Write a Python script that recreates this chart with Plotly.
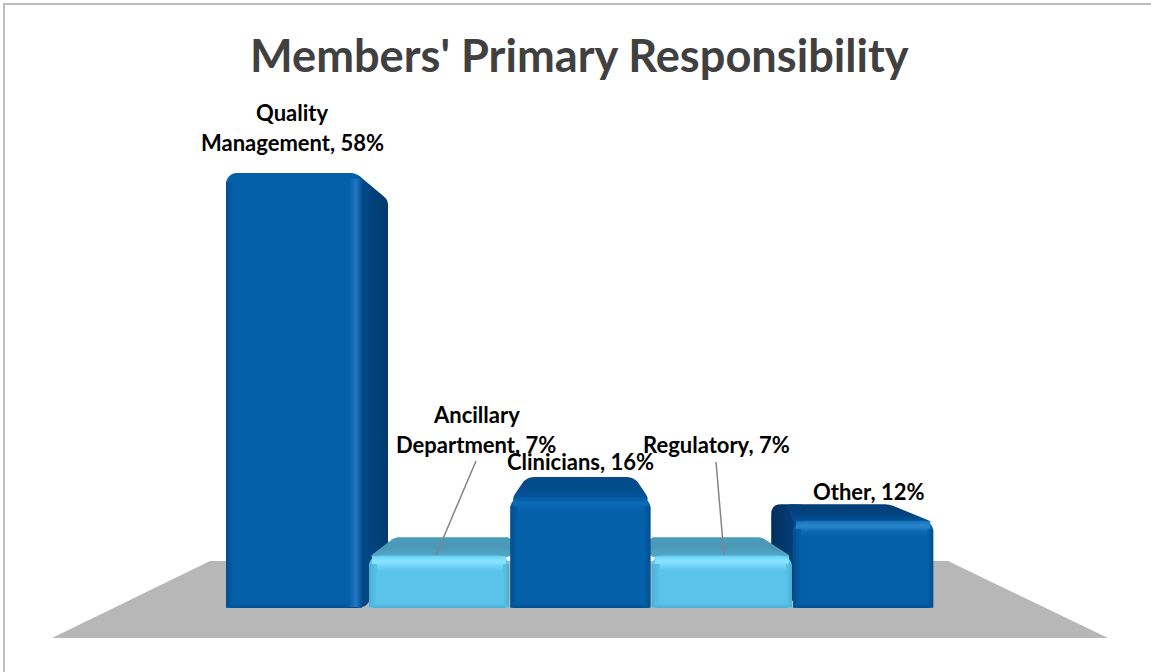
import plotly.graph_objects as go

# ---- data ----
categories = ["Quality Management", "Ancillary Department", "Clinicians", "Regulatory", "Other"]
label_lines = [["Quality", "Management, 58%"], ["Ancillary", "Department, 7%"],
               ["Clinicians, 16%"], ["Regulatory, 7%"], ["Other, 12%"]]
# height of each front face as drawn (the 3D view foreshortens the printed percentages)
front_values = [58, 7.05, 14.8, 7.05, 11.7]
bar_colors = ["#0460A9", "#5AC3EA", "#0460A9", "#5AC3EA", "#0460A9"]
title_text = "Members' Primary Responsibility"

# ---- layout geometry (pixels) ----
W, H = 1151, 672
BASE_PX, PX_PER_UNIT = 608, 7.5
X0_PX, STEP_PX = 297.6, 141.4
BAR_W = [136, 140, 140, 140, 140]
BAR_SHIFT = [-3.6, 0, 0, 0, 0]

def xd(px): return (px - X0_PX) / STEP_PX
def yd(py): return (BASE_PX - py) / PX_PER_UNIT
def top_px(i): return BASE_PX - front_values[i] * PX_PER_UNIT
def left_px(i): return X0_PX + STEP_PX * i + BAR_SHIFT[i] - BAR_W[i] / 2
def right_px(i): return left_px(i) + BAR_W[i]

def rounded(points, r):
    out = []
    n = len(points)
    for k in range(n):
        px, py = points[k - 1]
        cx, cy = points[k]
        nx, ny = points[(k + 1) % n]
        d1 = max(((cx - px) ** 2 + (cy - py) ** 2) ** 0.5, 1e-6)
        d2 = max(((cx - nx) ** 2 + (cy - ny) ** 2) ** 0.5, 1e-6)
        r1, r2 = min(r, d1 / 2), min(r, d2 / 2)
        a = (cx + (px - cx) * r1 / d1, cy + (py - cy) * r1 / d1)
        b = (cx + (nx - cx) * r2 / d2, cy + (ny - cy) * r2 / d2)
        for s in range(7):
            t = s / 6
            out.append(((1 - t) ** 2 * a[0] + 2 * t * (1 - t) * cx + t ** 2 * b[0],
                        (1 - t) ** 2 * a[1] + 2 * t * (1 - t) * cy + t ** 2 * b[1]))
    return out

def face(points, colors, kind="vertical", r=0, z=1):
    """colors run top -> bottom (vertical) or left -> right (horizontal)."""
    pts = rounded(points, r) if r else points
    xs = [xd(p[0]) for p in pts] + [xd(pts[0][0])]
    ys = [yd(p[1]) for p in pts] + [yd(pts[0][1])]
    scale = [[k / (len(colors) - 1), c] for k, c in enumerate(colors)]
    if kind == "vertical":
        start, stop = max(ys), min(ys)
    else:
        start, stop = min(xs), max(xs)
    return go.Scatter(x=xs, y=ys, mode="none", fill="toself", hoverinfo="skip",
                      showlegend=False, zorder=z,
                      fillgradient=dict(type=kind, colorscale=scale, start=start, stop=stop))

fig = go.Figure()

# floor
fig.add_trace(face([(52, 638), (210, 561), (948, 561), (1108, 638)], ["#B7B7B7", "#B7B7B7"], z=0))

# side and top faces, derived from each bar's top
t0, r0 = top_px(0), right_px(0)
fig.add_trace(face([(r0 - 6, t0), (r0 + 26, t0 + 27), (r0 + 26, BASE_PX - 50), (r0 + 5, BASE_PX - 2), (r0 - 6, BASE_PX)],
                   ["#034F8F", "#03427C", "#033B6E"], "horizontal", r=5))
t4, l4, r4 = top_px(4), left_px(4), right_px(4)
fig.add_trace(face([(l4 - 22, t4 - 16), (l4 + 14, t4 - 16), (l4 + 14, BASE_PX), (l4 - 22, BASE_PX - 18)],
                   ["#03305F", "#033B73", "#034A88"], "horizontal", r=10))
fig.add_trace(face([(l4 - 8, t4 - 16), (r4 - 44, t4 - 16), (r4, t4 + 2), (l4 + 2, t4 + 4)],
                   ["#033D76", "#03437F", "#0358A2"], r=6))
t1, l1, r1 = top_px(1), left_px(1), right_px(1)
fig.add_trace(face([(l1, t1 + 2), (l1 + 26, t1 - 18), (r1 + 2, t1 - 18), (r1 + 2, t1 + 2)],
                   ["#4A9CBC", "#4A98B8", "#52A8CA"], r=5))
t3, l3, r3 = top_px(3), left_px(3), right_px(3)
fig.add_trace(face([(l3 - 2, t3 + 2), (l3 - 2, t3 - 18), (r3 - 30, t3 - 18), (r3, t3 + 2)],
                   ["#4A9CBC", "#4A98B8", "#52A8CA"], r=5))
t2, l2, r2 = top_px(2), left_px(2), right_px(2)
fig.add_trace(face([(l2, t2 + 4), (l2 + 16, t2 - 20), (r2 - 16, t2 - 20), (r2, t2 + 4)],
                   ["#034A8A", "#034C8C", "#0358A2"], r=8))

# front faces: the data-driven bars
fig.add_trace(go.Bar(
    x=list(range(len(categories))), y=front_values, hovertext=categories,
    width=[w / STEP_PX for w in BAR_W],
    offset=[(s - w / 2) / STEP_PX for s, w in zip(BAR_SHIFT, BAR_W)],
    marker=dict(color=bar_colors, line_width=0, cornerradius=11),
    zorder=2, showlegend=False))

# bevel strips on the front faces
def hstrip(i, y0, y1, colors, inset=7):
    return face([(left_px(i) + inset, y0), (right_px(i) - inset, y0),
                 (right_px(i) - inset, y1), (left_px(i) + inset, y1)], colors, z=3)

def vstrip(x0, x1, y0, y1, colors):
    return face([(x0, y0), (x1, y0), (x1, y1), (x0, y1)], colors, "horizontal", z=3)

bevel = [None,
         ["#6BD3F7", "#8AE6FF", "#70D3F4", "#5AC3EA"],
         ["#045BA3", "#0D6AB5", "#0864AE", "#0460A9"],
         ["#6BD3F7", "#8AE6FF", "#70D3F4", "#5AC3EA"],
         ["#1A75BF", "#2A86CC", "#0E6AB3", "#0460A9"]]
for i, base in enumerate(bar_colors):
    top = top_px(i)
    edge = "#034E90" if base == "#0460A9" else "#4BAED4"
    if bevel[i]:
        fig.add_trace(hstrip(i, top + 1, top + 16, bevel[i], inset=3))
    fig.add_trace(vstrip(left_px(i), left_px(i) + 8, top + 9, BASE_PX - 1, [edge, base]))
    if i:
        fig.add_trace(vstrip(right_px(i) - 6, right_px(i), top + 9, BASE_PX - 1, [base, edge]))
    fig.add_trace(hstrip(i, BASE_PX - 5, BASE_PX, [base, edge], inset=4))
fig.add_trace(vstrip(r0 - 13, r0 - 6, t0 + 6, BASE_PX - 1, ["#0460A9", "#2276C0"]))
fig.add_trace(vstrip(r0 - 6, r0, t0 + 6, BASE_PX - 1, ["#2276C0", "#034E90"]))

# labels
label_center = [292, 476, 580, 716, 868]
label_last_py = [142, 444, 461, 444, 491]
LINE_H = 29.5
annotations = []
for i, lines in enumerate(label_lines):
    for j, line in enumerate(reversed(lines)):
        annotations.append(dict(x=xd(label_center[i]), y=yd(label_last_py[i] - j * LINE_H), text=f"<b>{line}</b>",
                                showarrow=False, xanchor="center", yanchor="middle",
                                font=dict(family="Lato", size=22, color="#000000")))
annotations.append(dict(x=xd(579), y=yd(54), text=f"<b>{title_text}</b>", showarrow=False,
                        xanchor="center", yanchor="middle",
                        font=dict(family="Lato", size=45.2, color="#404040")))

# leader lines and chart frame
def leader(a, b):
    return dict(type="line", xref="x", yref="y", x0=xd(a[0]), y0=yd(a[1]), x1=xd(b[0]), y1=yd(b[1]),
                line=dict(color="#848484", width=1.5))

shapes = [leader((476, 461), (436, 555)), leader((716, 462), (724, 555)),
          dict(type="rect", xref="paper", yref="paper", x0=4 / W, x1=1.5, y0=-1, y1=1 - 4 / H,
               line=dict(color="#BDBDBD", width=2), layer="below")]

fig.update_layout(
    width=W, height=H, margin=dict(l=0, r=0, t=0, b=0), autosize=False,
    paper_bgcolor="white", plot_bgcolor="white", showlegend=False, barmode="overlay",
    xaxis=dict(range=[xd(0), xd(W)], visible=False, fixedrange=True),
    yaxis=dict(range=[yd(H), yd(0)], visible=False, fixedrange=True),
    annotations=annotations, shapes=shapes)

fig.write_html("out.html", config={"displayModeBar": False},
               post_script="document.body.style.margin='0';document.body.style.overflow='hidden';")
